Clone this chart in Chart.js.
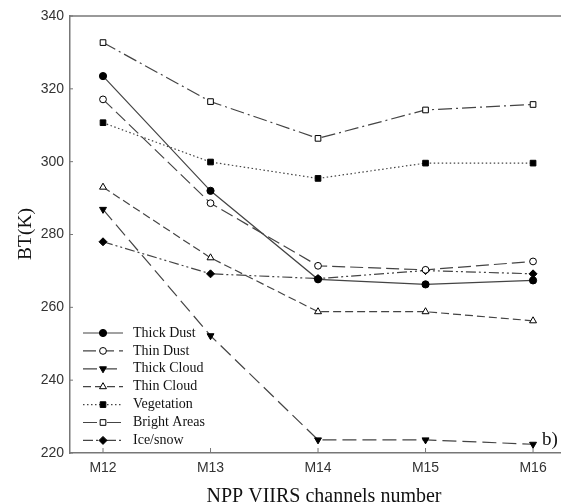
<!DOCTYPE html>
<html><head><meta charset="utf-8">
<script src="https://cdn.jsdelivr.net/npm/chart.js@4/dist/chart.umd.min.js"></script>
<style>html,body{margin:0;padding:0;background:#fff;overflow:hidden}</style>
</head><body>
<canvas id="c" width="561" height="503"></canvas>
<script>
const channels = ['M12','M13','M14','M15','M16'];
const thickDust   = [323.5, 292.0, 267.7, 266.3, 267.4];
const thinDust    = [317.1, 288.6, 271.4, 270.3, 272.6];
const thickCloud  = [286.9, 252.2, 223.6, 223.6, 222.4];
const thinCloud   = [293.0, 273.6, 258.8, 258.8, 256.3];
const vegetation  = [310.7, 299.9, 295.4, 299.6, 299.6];
const brightAreas = [332.7, 316.5, 306.4, 314.2, 315.7];
const iceSnow     = [278.0, 269.2, 267.9, 270.1, 269.2];
const yTicks = [220, 240, 260, 280, 300, 320, 340];
const xTitle = 'NPP VIIRS channels number';
const yTitle = 'BT(K)';
const panelLabel = 'b)';

const LINE = '#444';
const SERIF = '"Liberation Serif", "Times New Roman", serif';
function pts(arr){ return arr.map((v,i)=>({x:i,y:v})); }
function ds(label, arr, dash, style, filled, rot, radius){
  return {
    label, data: pts(arr), borderColor: LINE, borderWidth: 1.2, borderDash: dash,
    pointStyle: style, pointRotation: rot||0, pointRadius: radius||3.5,
    pointBackgroundColor: filled ? '#000' : '#fff', pointBorderColor: '#000', pointBorderWidth: 1,
    fill: false, tension: 0
  };
}
const datasets = [
  ds('Thick Dust', thickDust, [], 'circle', true, 0, 3.6),
  ds('Thin Dust', thinDust, [13,5], 'circle', false, 0, 3.4),
  ds('Thick Cloud', thickCloud, [14,6], 'triangle', true, 180, 4),
  ds('Thin Cloud', thinCloud, [8,4], 'triangle', false, 0, 4),
  ds('Vegetation', vegetation, [1.5,2.5], 'rect', true, 0, 4),
  ds('Bright Areas', brightAreas, [14,4,2,4], 'rect', false, 0, 4),
  ds('Ice/snow', iceSnow, [10,3,2,3,2,3], 'rectRot', true, 0, 4)
];

const extras = {
  id: 'extras',
  afterDraw(chart){
    const ctx = chart.ctx, a = chart.chartArea, xs = chart.scales.x, ys = chart.scales.y;
    ctx.save();
    // top border
    ctx.strokeStyle = '#777'; ctx.lineWidth = 1.5;
    ctx.beginPath(); ctx.moveTo(a.left, a.top); ctx.lineTo(a.right, a.top); ctx.stroke();
    // inward ticks
    ctx.lineWidth = 1;
    yTicks.forEach(v=>{ const y = ys.getPixelForValue(v); ctx.beginPath(); ctx.moveTo(a.left, y); ctx.lineTo(a.left+3, y); ctx.stroke(); });
    channels.forEach((c,i)=>{ const x = xs.getPixelForValue(i); ctx.beginPath(); ctx.moveTo(x, a.bottom); ctx.lineTo(x, a.bottom-5); ctx.stroke(); });
    // legend
    const x0 = a.left + 13, x1 = a.left + 53, xm = a.left + 33, tx = a.left + 63;
    let y = 333;
    ctx.font = '14px ' + SERIF;
    ctx.textBaseline = 'middle'; ctx.textAlign = 'left';
    chart.data.datasets.forEach(d=>{
      ctx.strokeStyle = LINE; ctx.lineWidth = 1.2; ctx.setLineDash(d.borderDash);
      ctx.beginPath(); ctx.moveTo(x0, y); ctx.lineTo(x1, y); ctx.stroke();
      ctx.setLineDash([]);
      ctx.fillStyle = d.pointBackgroundColor; ctx.strokeStyle = '#000'; ctx.lineWidth = 1;
      Chart.helpers.drawPoint(ctx, {pointStyle: d.pointStyle, rotation: d.pointRotation, radius: d.pointRadius, borderWidth: 1}, xm, y);
      ctx.fillStyle = '#111';
      ctx.fillText(d.label, tx, y);
      y += 17.9;
    });
    // panel label
    ctx.font = '19px ' + SERIF;
    ctx.fillStyle = '#111'; ctx.textAlign = 'left'; ctx.textBaseline = 'alphabetic';
    ctx.fillText(panelLabel, xs.getPixelForValue(4) + 9, ys.getPixelForValue(222.2));
    // axis titles
    ctx.font = '20px ' + SERIF;
    ctx.textAlign = 'center'; ctx.textBaseline = 'alphabetic';
    ctx.fillText(xTitle, 324, 501.5);
    ctx.translate(31, 234); ctx.rotate(-Math.PI/2);
    ctx.font = '19.5px ' + SERIF;
    ctx.fillText(yTitle, 0, 0);
    ctx.restore();
  }
};

new Chart(document.getElementById('c'), {
  type: 'line',
  data: { datasets },
  options: {
    responsive: false, animation: false,
    layout: { autoPadding: false, padding: { top: 16, left: 0, right: 0, bottom: 0 } },
    plugins: { legend: { display: false }, tooltip: { enabled: false } },
    scales: {
      x: {
        type: 'linear', position: 'bottom', min: -0.307, max: 4.26,
        afterBuildTicks: s => { s.ticks = channels.map((_,i)=>({value:i})); },
        afterFit: s => { s.height = 50; s.paddingLeft = 0; s.paddingRight = 0; },
        ticks: { callback: v => channels[v] ?? '', font: { family: '"Liberation Sans", Arial, sans-serif', size: 14 }, color: '#333', padding: 7, maxRotation: 0, autoSkip: false },
        grid: { display: true, drawOnChartArea: false, drawTicks: false },
        border: { display: true, color: '#777', width: 1.5 }
      },
      y: {
        min: 220, max: 340,
        afterBuildTicks: s => { s.ticks = yTicks.map(v=>({value:v})); },
        afterFit: s => { s.width = 70; s.paddingTop = 0; s.paddingBottom = 0; },
        ticks: { font: { family: '"Liberation Sans", Arial, sans-serif', size: 14 }, color: '#333', padding: 6 },
        grid: { display: true, drawOnChartArea: false, drawTicks: false },
        border: { display: true, color: '#777', width: 1.5 }
      }
    }
  },
  plugins: [extras]
});
</script>
</body></html>
